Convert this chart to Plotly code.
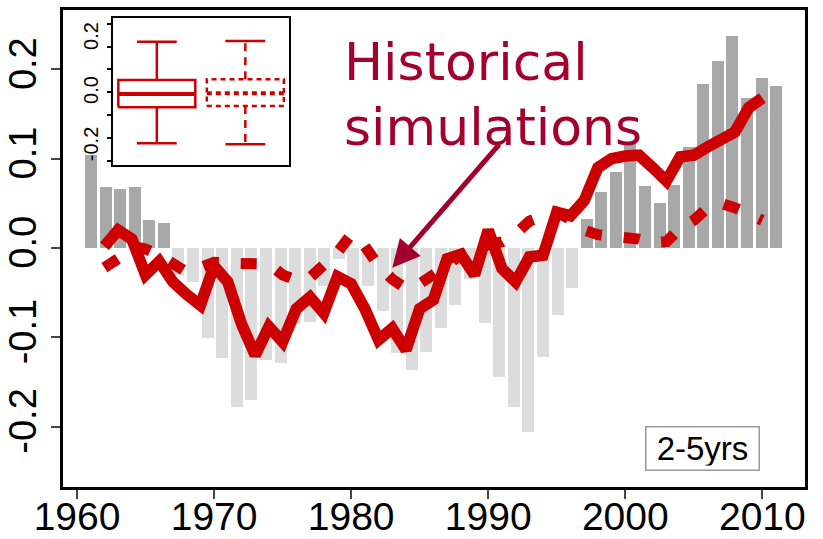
import plotly.graph_objects as go

# ---------------- data ----------------
years = list(range(1962, 2011))
forecast = [0.002, 0.020, 0.010, -0.030, -0.015, -0.038, -0.052, -0.064, -0.020, -0.038,
            -0.085, -0.120, -0.088, -0.105, -0.068, -0.055, -0.073, -0.032, -0.040, -0.068,
            -0.103, -0.090, -0.114, -0.068, -0.058, -0.012, -0.007, -0.030, 0.020, -0.023,
            -0.038, -0.010, -0.008, 0.040, 0.036, 0.053, 0.090, 0.100, 0.103, 0.104,
            0.090, 0.075, 0.102, 0.104, 0.113, 0.122, 0.130, 0.157, 0.168]
historical = [-0.022, -0.012, 0.002, -0.001, -0.008, -0.018, -0.027, -0.022, -0.016, -0.017,
              -0.017, -0.017, -0.018, -0.030, -0.036, -0.033, -0.020, -0.005, 0.015, 0.002,
              -0.020, -0.035, -0.045, -0.040, -0.030, -0.018, -0.008, 0.000, 0.005, 0.007,
              0.016, 0.030, 0.036, 0.040, 0.032, 0.020, 0.015, 0.014, 0.013, 0.010,
              0.006, 0.007, 0.022, 0.031, 0.045, 0.050, 0.045, 0.038, 0.031]
bar_index = list(range(1, 49))
observed = [0.104, 0.068, 0.066, 0.068, 0.031, 0.028, -0.030, -0.038, -0.101, -0.123,
            -0.178, -0.170, -0.125, -0.129, -0.084, -0.083, -0.043, -0.012, -0.040, -0.043,
            -0.071, -0.118, -0.137, -0.116, -0.090, -0.064, -0.035, -0.084, -0.144, -0.178,
            -0.206, -0.122, -0.075, -0.045, 0.033, 0.063, 0.085, 0.119, 0.069, 0.050,
            0.071, 0.113, 0.184, 0.209, 0.237, 0.168, 0.190, 0.181]

x_ticks = [1960, 1970, 1980, 1990, 2000, 2010]
y_ticks = [-0.2, -0.1, 0.0, 0.1, 0.2]
y_tick_text = ["-0.2", "-0.1", "0.0", "0.1", "0.2"]

# inset box-plot statistics (solid = initialised, dashed = historical)
box_pos = [1, 2]
box_upper = [0.190, 0.193]
box_q3 = [0.048, 0.051]
box_median = [-0.004, -0.001]
box_q1 = [-0.053, -0.048]
box_lower = [-0.186, -0.190]
inset_ticks = [-0.2, 0.0, 0.2]
inset_tick_text = ["-0.2", "0.0", "0.2"]
inset_minor_ticks = [-0.252, -0.166, -0.081, 0.003, 0.088, 0.172, 0.256]

RED = "#cc0000"
DARKRED = "#a3002e"
DARK_GREY = "#a8a8a8"
LIGHT_GREY = "#dcdcdc"
TICKFONT = "Liberation Sans Narrow, Arial Narrow, Liberation Sans, Arial"

fig = go.Figure()

# bars (bottom layer, index axis x)
fig.add_trace(go.Bar(
    x=bar_index, y=observed, xaxis="x", yaxis="y",
    marker=dict(color=[DARK_GREY if v > 0 else LIGHT_GREY for v in observed], line_width=0),
    width=0.82, showlegend=False, hoverinfo="skip"))

# historical simulations (dashed) on the year axis x2
fig.add_trace(go.Scatter(
    x=years, y=historical, mode="lines", xaxis="x2", yaxis="y",
    line=dict(color=RED, width=11, dash="16px,22px"), showlegend=False))

# initialised forecasts (solid)
fig.add_trace(go.Scatter(
    x=years, y=forecast, mode="lines", xaxis="x2", yaxis="y",
    line=dict(color=RED, width=11.5), showlegend=False))

# inset box plots
w, c = 0.435, 0.225
for k, p in enumerate(box_pos):
    dash = "solid" if k == 0 else "5px,4px"
    q1, q3, m, lo, up = box_q1[k], box_q3[k], box_median[k], box_lower[k], box_upper[k]
    fig.add_trace(go.Scatter(x=[p - w, p + w, p + w, p - w, p - w], y=[q1, q1, q3, q3, q1],
                             mode="lines", xaxis="x3", yaxis="y3",
                             line=dict(color=RED, width=2.5, dash=dash), showlegend=False))
    fig.add_trace(go.Scatter(x=[p - w, p + w], y=[m, m], mode="lines", xaxis="x3", yaxis="y3",
                             line=dict(color=RED, width=4, dash=dash), showlegend=False))
    fig.add_trace(go.Scatter(x=[p, p, None, p, p], y=[q3, up, None, q1, lo], mode="lines",
                             xaxis="x3", yaxis="y3",
                             line=dict(color=RED, width=2.5, dash=("solid" if k == 0 else "8px,6px")),
                             showlegend=False))
    fig.add_trace(go.Scatter(x=[p - c, p + c, None, p - c, p + c], y=[up, up, None, lo, lo],
                             mode="lines", xaxis="x3", yaxis="y3",
                             line=dict(color=RED, width=2.5), showlegend=False))

fig.update_layout(
    width=823, height=539,
    margin=dict(l=63, r=18, t=10, b=52),
    paper_bgcolor="white", plot_bgcolor="white",
    showlegend=False,
    bargap=0,
    xaxis=dict(range=[-0.92, 49.975], visible=False, automargin=False),
    xaxis2=dict(range=[1958.979, 2013.11], overlaying="x", anchor="y", side="bottom",
                tickvals=x_ticks, ticks="outside", ticklen=9, tickwidth=2,
                ticklabelstandoff=-16,
                showline=True, linewidth=3, linecolor="black", mirror=True, showgrid=False,
                zeroline=False, automargin=False,
                tickfont=dict(family=TICKFONT, size=39, color="black")),
    yaxis=dict(range=[-0.2676, 0.2665], tickvals=y_ticks, ticktext=y_tick_text, tickangle=-90,
               ticks="outside", ticklen=9, tickwidth=2, showline=True, linewidth=3,
               linecolor="black", mirror=True, showgrid=False, zeroline=False, automargin=False,
               tickfont=dict(family=TICKFONT, size=38, color="black")),
    xaxis3=dict(domain=[0.068, 0.305], range=[0.51, 2.497], anchor="y3", showticklabels=False,
                ticks="", showline=True, linewidth=2, linecolor="black", mirror=True,
                showgrid=False, zeroline=False, automargin=False),
    yaxis3=dict(domain=[0.675, 0.9826], range=[-0.267, 0.277], anchor="x3", tickvals=inset_ticks,
                ticktext=inset_tick_text, tickangle=-90, ticks="", ticklabelstandoff=5,
                minor=dict(tickvals=inset_minor_ticks, ticks="outside", ticklen=4, tickwidth=1.5,
                           tickcolor="black", showgrid=False),
                showline=True, linewidth=2, linecolor="black", mirror=True, showgrid=False,
                zeroline=False, automargin=False,
                tickfont=dict(family="Liberation Sans, Arial", size=20, color="black")),
    annotations=[
        dict(x=1979.3, y=0.2083, xref="x2", yref="y", text="Historical", showarrow=False,
             xanchor="left", yanchor="middle",
             font=dict(family="DejaVu Sans, Verdana", size=52, color=DARKRED)),
        dict(x=1979.3, y=0.135, xref="x2", yref="y", text="simulations", showarrow=False,
             xanchor="left", yanchor="middle",
             font=dict(family="DejaVu Sans, Verdana", size=52, color=DARKRED)),
        dict(x=1983.0, y=-0.022, xref="x2", yref="y", ax=1990.9, ay=0.1176, axref="x2", ayref="y",
             text="", showarrow=True, arrowhead=2, arrowsize=1.1, arrowwidth=5, arrowcolor=DARKRED),
        dict(x=2005.64, y=-0.2245, xref="x2", yref="y", text="2-5yrs", showarrow=False,
             xanchor="center", yanchor="middle", bordercolor="#999999", borderwidth=1.5,
             borderpad=4, bgcolor="white", width=104, height=34,
             font=dict(family="Liberation Sans, Arial", size=33, color="black")),
    ],
)

fig.write_html("out.html")
